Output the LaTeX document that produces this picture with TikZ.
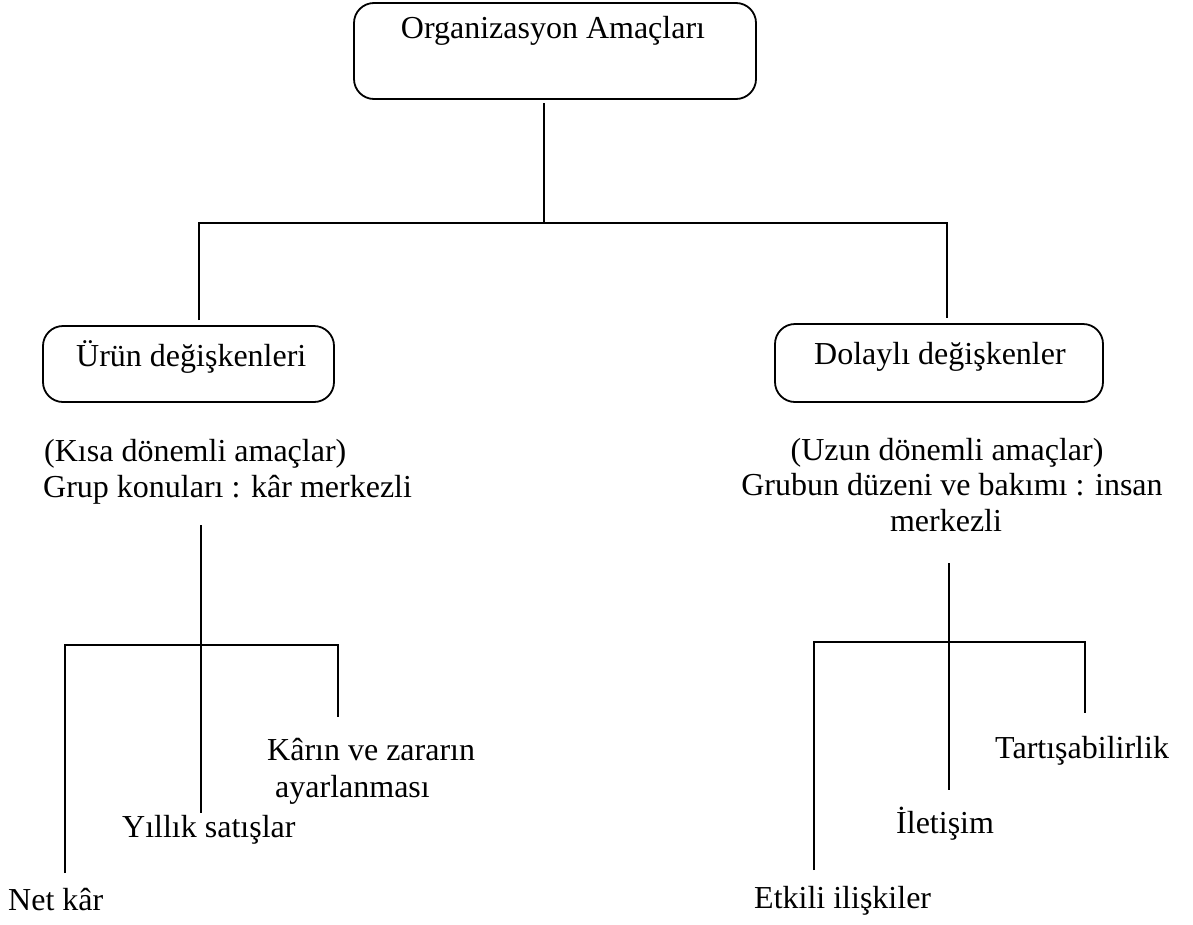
\documentclass[tikz,border=0pt]{standalone}
\usepackage{fontspec}
\setmainfont{Liberation Serif}
\begin{document}
\begin{tikzpicture}[x=1pt,y=-1pt,
  box/.style={draw, line width=1.8pt, rounded corners=20pt, inner sep=0pt},
  conn/.style={line width=1.5pt},
  lbl/.style={inner sep=0pt, font=\fontsize{32}{36}\selectfont}]
\useasboundingbox[fill=white] (0,0) rectangle (1193,924);

% boxes
\node[box, minimum width=402pt, minimum height=96pt] (top) at (555,51) {};
\node[box, minimum width=291pt, minimum height=76pt] (left) at (188.5,364) {};
\node[box, minimum width=328pt, minimum height=78pt] (right) at (939,363) {};

% box texts
\node[lbl, anchor=base] (toptxt) at (553,38) {Organizasyon Amaçları};
\node[lbl, anchor=base west] (urun) at (76,366) {Ürün değişkenleri};
\node[lbl, anchor=base west] (dolayli) at (814,364) {Dolaylı değişkenler};

% descriptions
\node[lbl, anchor=base west] (kisa) at (44,461) {(Kısa dönemli amaçlar)};
\node[lbl, anchor=base west] (grup) at (43,497) {Grup konuları : kâr merkezli};
\node[lbl, anchor=base] (uzun) at (947,460) {(Uzun dönemli amaçlar)};
\node[lbl, anchor=base] (grubun) at (952,495) {Grubun düzeni ve bakımı : insan};
\node[lbl, anchor=base] (merkezli) at (946,531) {merkezli};

% leaf labels
\node[lbl, anchor=base west] (karin) at (267,760) {Kârın ve zararın};
\node[lbl, anchor=base west] (ayar) at (275,797) {ayarlanması};
\node[lbl, anchor=base west] (yillik) at (122,837) {Yıllık satışlar};
\node[lbl, anchor=base west] (netkar) at (8,910) {Net kâr};
\node[lbl, anchor=base west] (tart) at (995,758) {Tartışabilirlik};
\node[lbl, anchor=base west] (ilet) at (896,833) {İletişim};
\node[lbl, anchor=base west] (etkili) at (754,908) {Etkili ilişkiler};

% upper connector coordinates
\coordinate (t0) at (544,103);
\coordinate (t1) at (544,223);
\coordinate (hl) at (199,223);
\coordinate (hr) at (947,223);
\coordinate (l0) at (199,320);
\coordinate (r0) at (947,318);

\draw[conn] (t0) -- (t1);
\draw[conn] (l0) -- (hl) -- (hr) -- (r0);

% left lower tree
\coordinate (la) at (201,525);
\coordinate (lb) at (201,813);
\coordinate (lh1) at (65,645);
\coordinate (lh2) at (338,645);
\coordinate (le1) at (65,873);
\coordinate (le3) at (338,717);
\draw[conn] (la) -- (lb);
\draw[conn] (le1) -- (lh1) -- (lh2) -- (le3);

% right lower tree
\coordinate (ra) at (949,563);
\coordinate (rb) at (949,790);
\coordinate (rh1) at (814,642);
\coordinate (rh2) at (1085,642);
\coordinate (re1) at (814,870);
\coordinate (re3) at (1085,713);
\draw[conn] (ra) -- (rb);
\draw[conn] (re1) -- (rh1) -- (rh2) -- (re3);
\end{tikzpicture}
\end{document}
